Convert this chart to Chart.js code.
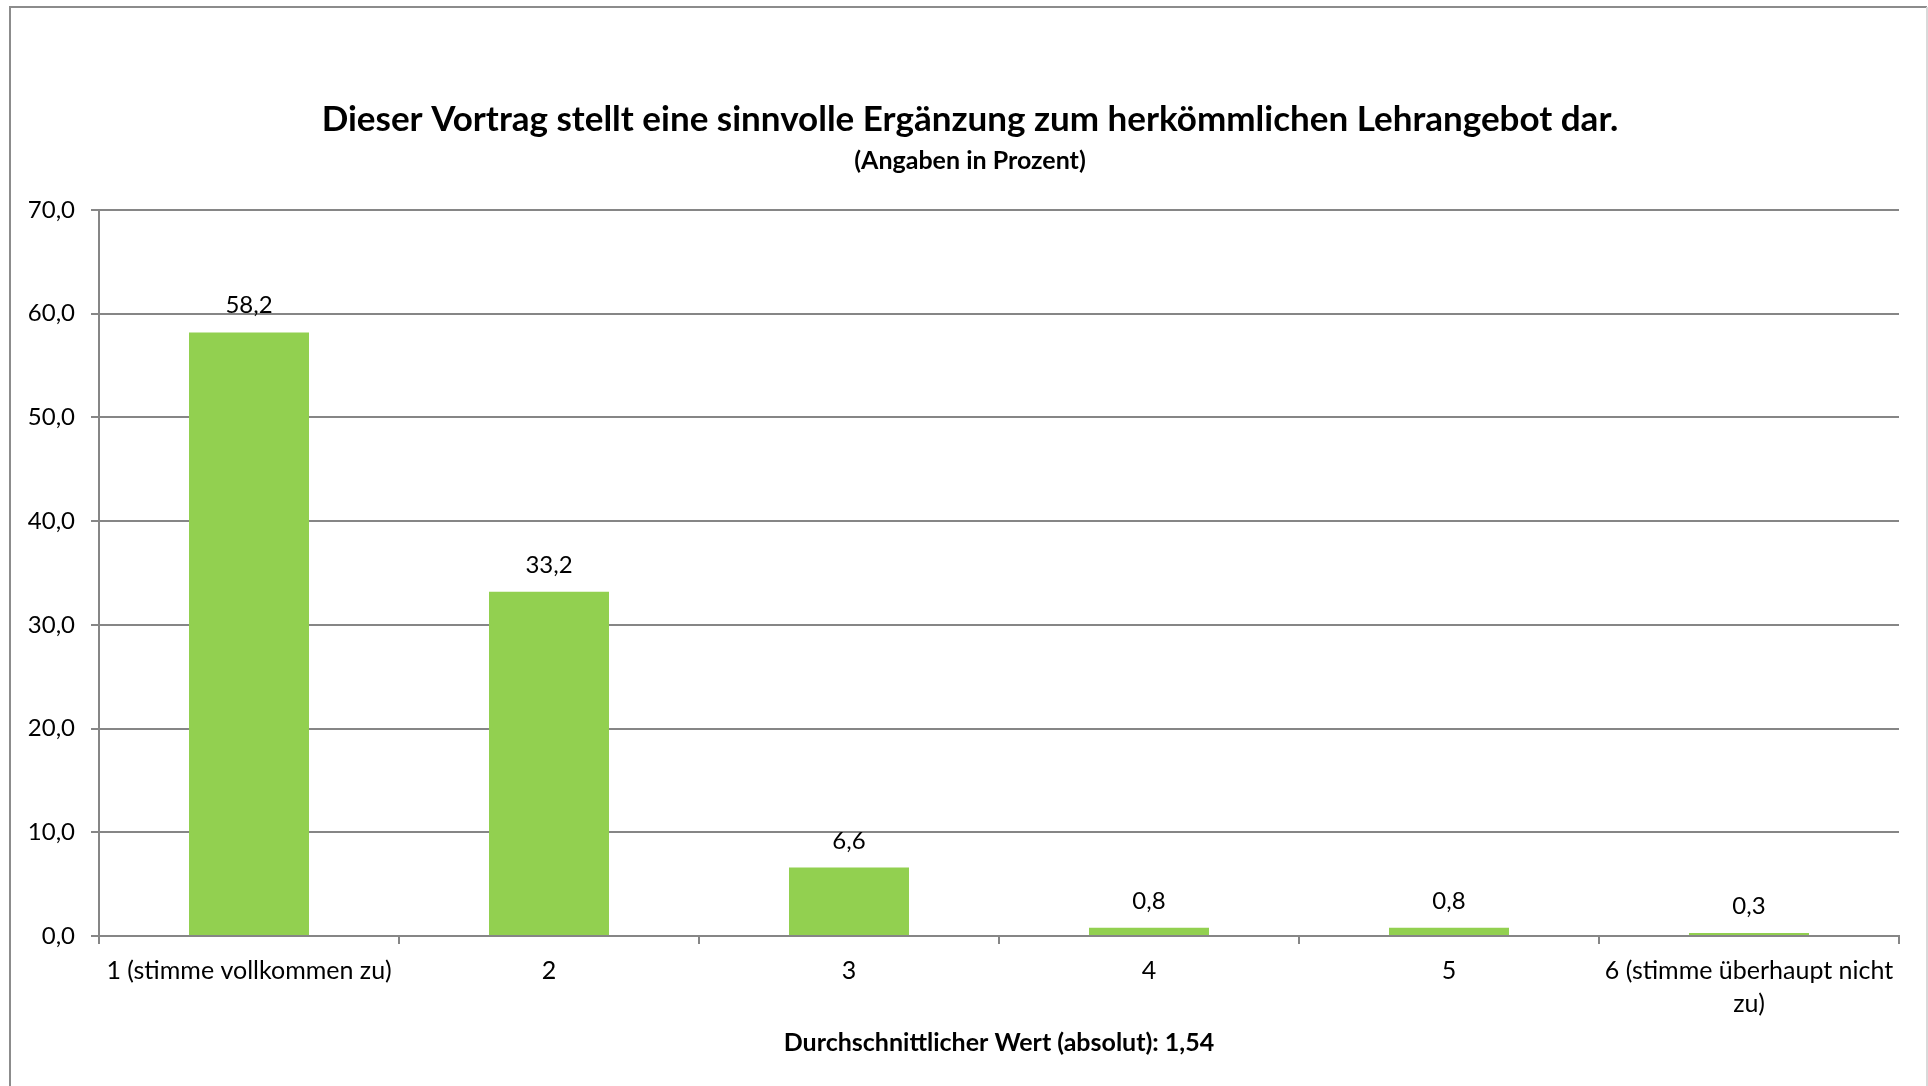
<!DOCTYPE html>
<html>
<head>
<meta charset="utf-8">
<script src="https://cdn.jsdelivr.net/npm/chart.js@4"></script>
<style>
html,body{margin:0;padding:0;background:#fff;}
#wrap{width:1928px;height:1086px;position:relative;}
</style>
</head>
<body>
<div id="wrap"><canvas id="c" width="1928" height="1086"></canvas></div>
<script>
const categories = ["1 (stimme vollkommen zu)", "2", "3", "4", "5", ["6 (stimme überhaupt nicht", "zu)"]];
const values = [58.2, 33.2, 6.6, 0.8, 0.8, 0.3];
const titleText = "Dieser Vortrag stellt eine sinnvolle Ergänzung zum herkömmlichen Lehrangebot dar.";
const subtitleText = "(Angaben in Prozent)";
const footerText = "Durchschnittlicher Wert (absolut): 1,54";
const yMin = 0, yMax = 70, yStep = 10;

const FONT = "Lato, 'Open Sans', sans-serif";
const fmt = v => Number(v).toFixed(1).replace('.', ',');

const decor = {
  id: 'decor',
  beforeDraw(chart) {
    const ctx = chart.ctx;
    ctx.save();
    ctx.fillStyle = '#fff';
    ctx.fillRect(0, 0, chart.width, chart.height);
    ctx.lineWidth = 2;
    ctx.strokeStyle = '#8c8c8c';
    ctx.beginPath();
    ctx.moveTo(10, 1086); ctx.lineTo(10, 7); ctx.lineTo(1927, 7);
    ctx.stroke();
    ctx.strokeStyle = '#d9d9d9';
    ctx.beginPath();
    ctx.moveTo(1927, 7); ctx.lineTo(1927, 1086);
    ctx.stroke();
    ctx.restore();
  },
  afterDraw(chart) {
    const ctx = chart.ctx;
    const ca = chart.chartArea;
    ctx.save();
    ctx.fillStyle = '#000';
    ctx.textAlign = 'center';
    ctx.textBaseline = 'middle';
    ctx.font = "bold 35px " + FONT;
    ctx.fillText(titleText, 970, 120);
    ctx.font = "bold 25px " + FONT;
    ctx.fillText(subtitleText, 970, 161);
    ctx.font = "bold 25px " + FONT;
    ctx.fillText(footerText, (ca.left + ca.right) / 2, 1043);
    // data labels
    ctx.font = "24px " + FONT;
    ctx.textBaseline = 'alphabetic';
    const meta = chart.getDatasetMeta(0);
    meta.data.forEach((bar, i) => {
      ctx.fillText(fmt(values[i]), bar.x, bar.y - 19);
    });
    ctx.restore();
  }
};

new Chart(document.getElementById('c'), {
  type: 'bar',
  data: {
    labels: categories,
    datasets: [{
      data: values,
      backgroundColor: '#92D050',
      borderWidth: 0,
      categoryPercentage: 1.0,
      barPercentage: 0.4
    }]
  },
  options: {
    responsive: false,
    animation: false,
    devicePixelRatio: 1,
    layout: { padding: { left: 0, right: 29, top: 210, bottom: 0 } },
    plugins: { legend: { display: false }, tooltip: { enabled: false }, title: { display: false } },
    scales: {
      x: {
        grid: { display: true, drawOnChartArea: false, offset: true, color: '#868686', lineWidth: 2, tickLength: 8 },
        border: { display: true, color: '#868686', width: 2 },
        ticks: { color: '#000', font: { family: FONT, size: 25, lineHeight: 1.32 }, padding: 10, maxRotation: 0, autoSkip: false },
        afterFit(scale) { scale.height = 150; }
      },
      y: {
        min: yMin, max: yMax,
        grid: { color: '#868686', lineWidth: 2, tickLength: 8 },
        border: { display: true, color: '#868686', width: 2 },
        ticks: { stepSize: yStep, color: '#000', font: { family: FONT, size: 24 }, padding: 16, callback: v => fmt(v) },
        afterFit(scale) { scale.width = 99; }
      }
    }
  },
  plugins: [decor]
});
</script>
</body>
</html>
